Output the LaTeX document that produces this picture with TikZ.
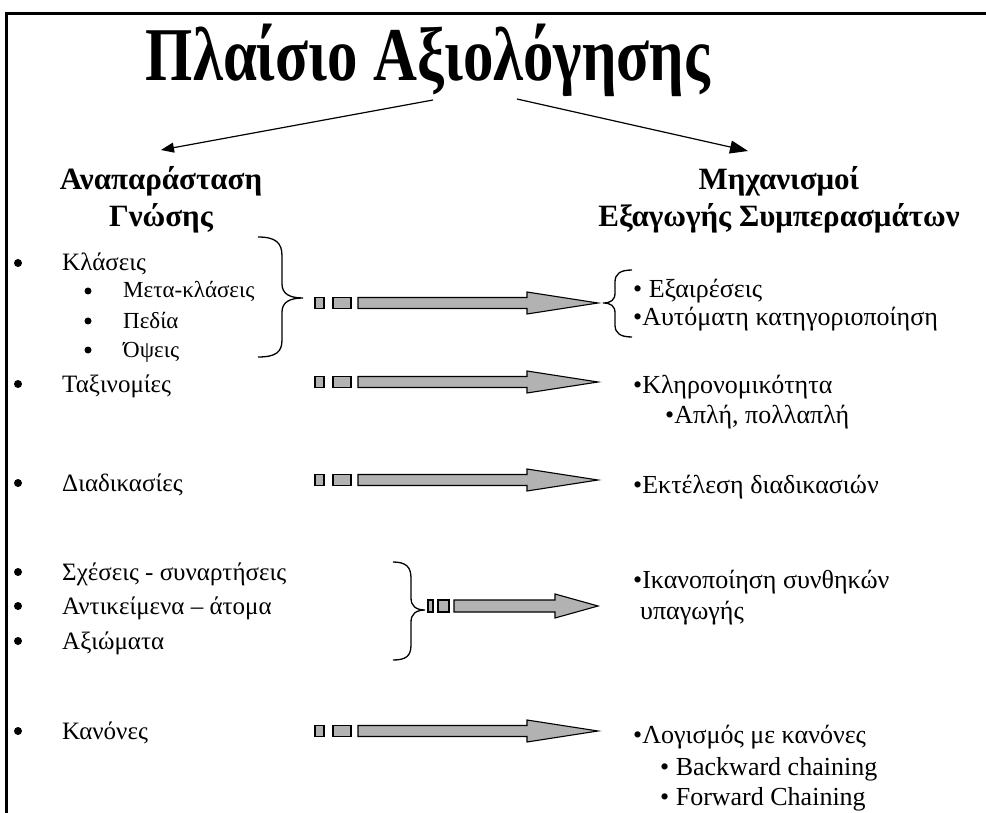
\documentclass[tikz,border=0pt]{standalone}
\usepackage{fontspec}
\setmainfont{Liberation Serif}
\usetikzlibrary{arrows.meta}
\begin{document}
\begin{tikzpicture}[x=1pt,y=-1pt,
  item/.style={anchor=base west, inner sep=0pt, font=\fontsize{25}{29}\selectfont},
  subitem/.style={anchor=base west, inner sep=0pt, font=\fontsize{23}{27}\selectfont},
  rtext/.style={anchor=base west, inner sep=0pt, font=\fontsize{26}{30}\selectfont},
  bul/.style={circle, fill=black, inner sep=0pt, minimum size=8pt},
  subbul/.style={circle, fill=black, inner sep=0pt, minimum size=7pt},
  head/.style={align=center, inner sep=0pt, font=\bfseries\fontsize{31}{37}\selectfont},
  bigarrow/.style={draw=black, fill=black!30, line width=1.1pt, line join=miter},
  brace/.style={draw=black, line width=1.3pt},
  link/.style={draw=black, line width=1.2pt},
]
\useasboundingbox (0,0) rectangle (986,813);

% frame
\draw[line width=3pt] (986,14) -- (6,14) -- (6,813);

% title and the two branches (base anchor = baseline of the last line)
\node[inner sep=0pt, anchor=base] (title) at (428,81)
  {\scalebox{0.8}[1]{\bfseries\fontsize{76}{80}\selectfont Πλαίσιο Αξιολόγησης}};
\node[head, anchor=base] (lhead) at (161,227) {Αναπαράσταση\\Γνώσης};
\node[head, anchor=base] (rhead) at (779,227) {Μηχανισμοί\\Εξαγωγής Συμπερασμάτων};
\coordinate (tl) at (433,100);
\coordinate (tr) at (517,99);
\coordinate (al) at (161,150);
\coordinate (ar) at (748,151);
\draw[link, -{Triangle[length=13pt,width=10pt]}] (tl) -- (al);
\draw[link, -{Triangle[length=18pt,width=13pt]}] (tr) -- (ar);

% left column
\foreach \n/\y/\t in {k/271/Κλάσεις, t/392/Ταξινομίες, d/491/Διαδικασίες,
    s/580/Σχέσεις - συναρτήσεις, a/614/Αντικείμενα – άτομα, x/649/Αξιώματα,
    r/739/Κανόνες} {
  \node[bul] (b\n) at (18,\y-8) {};
  \node[item] (i\n) at (62,\y) {\t};
}
\foreach \n/\y/\t in {m/298/Μετα-κλάσεις, p/328/Πεδία, o/357/Όψεις} {
  \node[subbul] (b\n) at (88,\y-7) {};
  \node[subitem] (i\n) at (123,\y) {\t};
}

% right column
\node[rtext] (e1) at (633,298) {• Εξαιρέσεις};
\node[rtext] (e2) at (633,326) {•Αυτόματη κατηγοριοποίηση};
\node[rtext] (h1) at (633,393) {•Κληρονομικότητα};
\node[rtext] (h2) at (665,423) {•Απλή, πολλαπλή};
\node[rtext] (p1) at (633,493) {•Εκτέλεση διαδικασιών};
\node[rtext] (c1) at (633,588) {•Ικανοποίηση συνθηκών};
\node[rtext] (c2) at (640,619) {υπαγωγής};
\node[rtext] (l1) at (633,743) {•Λογισμός με κανόνες};
\node[rtext] (l2) at (660,775) {• Backward chaining};
\node[rtext] (l3) at (660,805) {• Forward Chaining};

% braces
\draw[brace] (258,237) .. controls (276,237) and (282,243) .. (282,256)
  -- (282,284) .. controls (282,294) and (290,298) .. (303,298)
  .. controls (290,298) and (282,302) .. (282,312)
  -- (282,340) .. controls (282,352) and (276,357) .. (258,357);
\draw[brace] (393,562) .. controls (406,562) and (411,567) .. (411,578)
  -- (411,598) .. controls (411,606) and (416,610) .. (425,610)
  .. controls (416,610) and (411,614) .. (411,622)
  -- (411,645) .. controls (411,656) and (406,660) .. (393,660);
\draw[brace] (632,270) .. controls (620,270) and (615,274) .. (615,282)
  -- (615,293) .. controls (615,300) and (611,303) .. (603,303)
  .. controls (611,303) and (615,306) .. (615,313)
  -- (615,325) .. controls (615,333) and (620,337) .. (632,337);

% block arrows: two square dashes and a shaft with head
\foreach \y in {303,382,480,731} {
  \draw[bigarrow] (315,\y-5.5) rectangle (324,\y+5.5);
  \draw[bigarrow] (333,\y-5.5) rectangle (351,\y+5.5);
  \draw[bigarrow] (358,\y-5.5) -- (527,\y-5.5) -- (527,\y-11) -- (598,\y)
    -- (527,\y+11) -- (527,\y+5.5) -- (358,\y+5.5) -- cycle;
}
\draw[bigarrow] (428,600) rectangle (433,612);
\draw[bigarrow] (438,600) rectangle (449,612);
\draw[bigarrow] (454,600) -- (555,600) -- (555,594) -- (598,606)
  -- (555,618) -- (555,612) -- (454,612) -- cycle;
\end{tikzpicture}
\end{document}
